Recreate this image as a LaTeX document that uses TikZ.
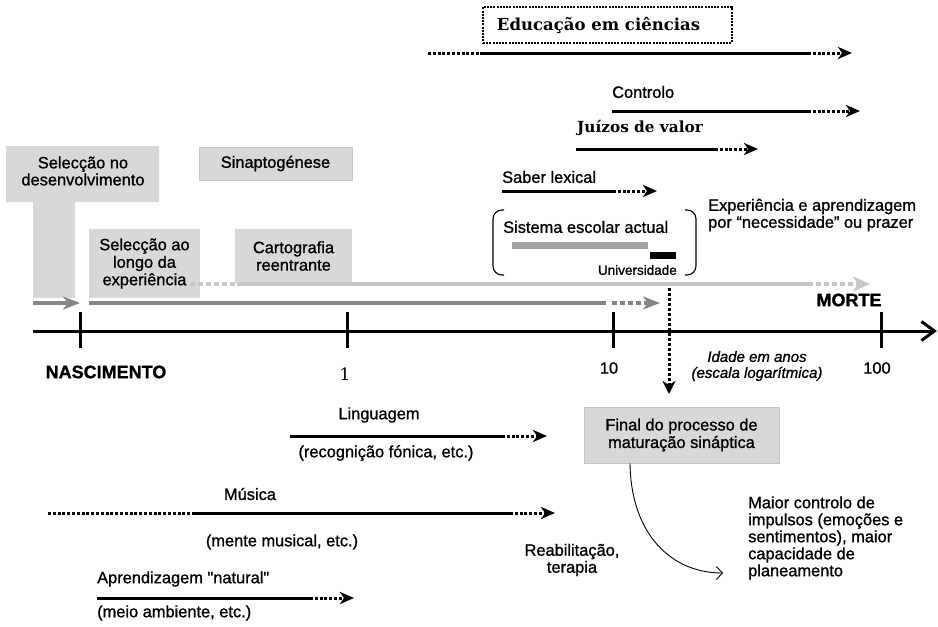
\documentclass[tikz,border=0pt]{standalone}
\usepackage{fontspec}
\setmainfont{Liberation Sans}[FakeBold=1.1]
\newfontfamily\seriffont{DejaVu Serif}
\usetikzlibrary{arrows.meta}
\definecolor{boxgray}{HTML}{D8D8D8}
\definecolor{boxedge}{HTML}{C4C4C4}
\definecolor{darkgray2}{HTML}{858585}
\definecolor{lightgray2}{HTML}{C6C6C6}
\definecolor{bargray}{HTML}{A3A3A3}
\tikzset{
  txt/.style={inner sep=0pt, font=\fontsize{16.4}{17}\selectfont},
  ctxt/.style={txt, align=center},
  ltxt/.style={txt, align=left},
  sertxt/.style={inner sep=0pt, font=\seriffont\bfseries\fontsize{16.5}{18}\selectfont},
  boldtxt/.style={inner sep=0pt, font=\bfseries\fontsize{18}{19}\selectfont},
  solidseg/.style={line width=3pt},
  dotseg/.style={line width=3pt, dash pattern=on 3pt off 1.8pt},
  blkhead/.style={-{Stealth[length=14pt,width=12pt,inset=4pt]}},
  grayseg/.style={line width=4pt, darkgray2},
  graydot/.style={line width=4pt, darkgray2, dash pattern=on 5pt off 3pt},
  grayhead/.style={-{Stealth[length=17pt,width=13pt,inset=5pt]}},
  lgseg/.style={line width=4pt, lightgray2},
  lgdot/.style={line width=4pt, lightgray2, dash pattern=on 5pt off 3pt},
  graybox/.style={fill=boxgray, inner sep=0pt, font=\fontsize{16.4}{17.5}\selectfont, align=center},
  tickline/.style={line width=3pt},
}
\begin{document}
\begin{tikzpicture}[x=1pt,y=-1pt]
\useasboundingbox (0,0) rectangle (938,627);

% ---------- top: Educacao em ciencias ----------
\node[draw, line width=2pt, dash pattern=on 2pt off 1.2pt, minimum width=249pt, minimum height=36pt, inner sep=0pt] (edubox) at (607.5,25) {};
\node[sertxt] (edu) at (598.5,26) {Educação em ciências};
\coordinate (e1) at (428,53); \coordinate (e2) at (480,53);
\coordinate (e3) at (808,53); \coordinate (e4) at (852,53);
\draw[dotseg] (e1) -- (e2);
\draw[solidseg] (e2) -- (e3);
\draw[dotseg, blkhead] (e3) -- (e4);

% Controlo
\node[txt, anchor=west] (ctrl) at (612,92) {Controlo};
\coordinate (c1) at (612,111); \coordinate (c2) at (808,111); \coordinate (c3) at (860,111);
\draw[solidseg] (c1) -- (c2);
\draw[dotseg, blkhead] (c2) -- (c3);

% Juizos de valor
\node[sertxt, font=\seriffont\bfseries\fontsize{15.3}{17}\selectfont, anchor=west] (juizos) at (577,128) {Juízos de valor};
\coordinate (j1) at (576,149); \coordinate (j2) at (715,149); \coordinate (j3) at (758,149);
\draw[solidseg] (j1) -- (j2);
\draw[dotseg, blkhead] (j2) -- (j3);

% Saber lexical
\node[txt, anchor=west] (saber) at (502,177) {Saber lexical};
\coordinate (s1) at (502,191); \coordinate (s2) at (613,191); \coordinate (s3) at (657,191);
\draw[solidseg] (s1) -- (s2);
\draw[dotseg, blkhead] (s2) -- (s3);

% Experiencia
\node[ltxt, anchor=west] (exper) at (708,215) {Experiência e aprendizagem\\por “necessidade” ou prazer};

% Sistema escolar actual
\draw[line width=1.1pt, rounded corners=9pt] (504,210) -- (493,210) -- (493,275) -- (504,275);
\draw[line width=1.1pt, rounded corners=9pt] (685,210) -- (696,210) -- (696,275) -- (685,275);
\node[txt, anchor=west] (sistema) at (503,227) {Sistema escolar actual};
\fill[bargray] (512,242) rectangle (648,249);
\fill[black] (650,252) rectangle (676,259);
\node[inner sep=0pt, font=\fontsize{13.5}{14}\selectfont, anchor=east] (univ) at (677,270) {Universidade};

% ---------- left gray boxes ----------
\fill[boxgray] (6,146) -- (159,146) -- (159,202) -- (75,202) -- (75,298) -- (33,298) -- (33,202) -- (6,202) -- cycle;
\node[ctxt] (selnd) at (83,171) {Selecção no\\desenvolvimento};
\node[graybox, draw=boxedge, line width=0.6pt, minimum width=153pt, minimum height=33pt] (sin) at (275.5,163.5) {Sinaptogénese};
\node[graybox, minimum width=111pt, minimum height=69pt] (selexp) at (144.5,263.5) {Selecção ao\\longo da\\experiência};
\node[graybox, minimum width=117pt, minimum height=54pt] (carto) at (293.5,256) {Cartografia\\reentrante};

% light gray long arrow
\coordinate (l1) at (190,284); \coordinate (l2) at (237,284);
\coordinate (l3) at (808,284); \coordinate (l4) at (870,284);
\draw[lgdot] (l1) -- (l2);
\draw[lgseg] (l2) -- (l3);
\draw[lgdot, lightgray2, -{Stealth[length=17pt,width=15pt,inset=5pt]}] (l3) -- (l4);

% dark gray arrows
\coordinate (d1) at (33,303); \coordinate (d2) at (80,303);
\draw[grayseg, grayhead] (d1) -- (d2);
\coordinate (d3) at (89,303); \coordinate (d4) at (606,303); \coordinate (d4b) at (612,303); \coordinate (d5) at (660,303);
\draw[grayseg] (d3) -- (d4);
\draw[graydot, grayhead] (d4b) -- (d5);

% ---------- axis ----------
\coordinate (a1) at (33,331); \coordinate (a2) at (937,331);
\draw[line width=3pt, -{Straight Barb[length=13pt,width=19pt]}] (a1) -- (a2);
\coordinate (t1a) at (80,312);  \coordinate (t1b) at (80,348);
\coordinate (t2a) at (347,312); \coordinate (t2b) at (347,348);
\coordinate (t3a) at (613,312); \coordinate (t3b) at (613,348);
\coordinate (t4a) at (881,312); \coordinate (t4b) at (881,348);
\draw[tickline] (t1a) -- (t1b);
\draw[tickline] (t2a) -- (t2b);
\draw[tickline] (t3a) -- (t3b);
\draw[tickline] (t4a) -- (t4b);

\node[boldtxt] (nasc) at (106,372) {NASCIMENTO};
\node[boldtxt] (morte) at (849,300) {MORTE};
\node[inner sep=0pt, font=\seriffont\fontsize{17}{18}\selectfont] (one) at (345,374) {1};
\node[txt] (ten) at (609,368) {10};
\node[txt] (hundred) at (877,368) {100};
\node[inner sep=0pt, align=center, font=\itshape\fontsize{15}{16}\selectfont] (idade) at (757,366) {Idade em anos\\(escala logarítmica)};

% dotted vertical arrow to final box
\coordinate (v1) at (669,288); \coordinate (v2) at (669,394);
\draw[line width=3pt, dash pattern=on 3pt off 2pt, -{Stealth[length=13pt,width=13pt,inset=4pt]}] (v1) -- (v2);

\node[graybox, draw=boxedge, line width=0.6pt, minimum width=195pt, minimum height=56pt] (final) at (681.5,435) {Final do processo de\\maturação sináptica};

% curved arrow
\coordinate (cv) at (723,573);
\draw[line width=0.9pt, -{Straight Barb[length=6pt,width=13pt]}] (final.south -| 630,0) .. controls (631,535) and (672,573) .. (cv);

\node[ltxt, anchor=west] (maior) at (748,538) {Maior controlo de\\impulsos (emoções e\\sentimentos), maior\\capacidade de\\planeamento};
\node[ctxt] (reab) at (572,560) {Reabilitação,\\terapia};

% ---------- bottom-left arrows ----------
\node[txt] (ling) at (379,415) {Linguagem};
\coordinate (g1) at (290,436); \coordinate (g2) at (502,436); \coordinate (g3) at (547,436);
\draw[solidseg] (g1) -- (g2);
\draw[dotseg, blkhead] (g2) -- (g3);
\node[txt] (recog) at (386,453) {(recognição fónica, etc.)};

\node[txt] (musica) at (250,494) {Música};
\coordinate (m1) at (48,513); \coordinate (m2) at (192,513);
\coordinate (m3) at (510,513); \coordinate (m4) at (555,513);
\draw[dotseg] (m1) -- (m2);
\draw[solidseg] (m2) -- (m3);
\draw[dotseg, blkhead] (m3) -- (m4);
\node[txt] (mente) at (282,542) {(mente musical, etc.)};

\node[txt, anchor=west] (aprend) at (97,579) {Aprendizagem \textquotedbl natural\textquotedbl};
\coordinate (p1) at (97,598); \coordinate (p2) at (310,598); \coordinate (p3) at (354,598);
\draw[solidseg] (p1) -- (p2);
\draw[dotseg, blkhead] (p2) -- (p3);
\node[txt, anchor=west] (meio) at (97,613) {(meio ambiente, etc.)};
\end{tikzpicture}
\end{document}
